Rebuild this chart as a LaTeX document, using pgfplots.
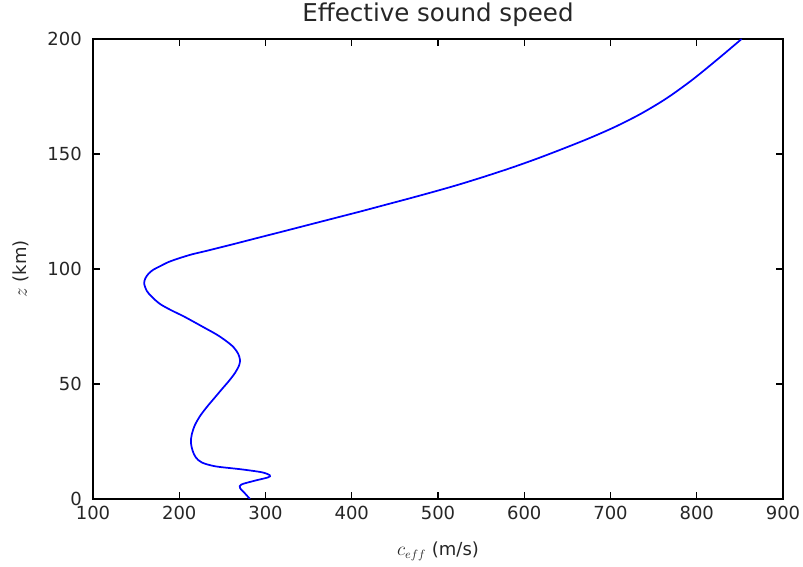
\documentclass[border=0pt]{standalone}
\usepackage{pgfplots}
\pgfplotsset{compat=1.18}
\usepackage{fontspec}
\setmainfont{DejaVu Sans}
\begin{document}
\begin{tikzpicture}
\path[use as bounding box] (-69.75pt,-51pt) rectangle (532.5pt,374.25pt);
\begin{axis}[
  at={(0,0)}, anchor=south west,
  scale only axis,
  width=517.5pt, height=345pt,
  xmin=100, xmax=900, ymin=0, ymax=200,
  xtick={100,200,...,900},
  ytick={0,50,...,200},
  tick align=inside,
  tick pos=both,
  major tick length=5pt,
  minor tick num=0,
  axis line style={line width=0.9pt},
  every tick/.style={black, line width=0.8pt},
  /pgf/number format/assume math mode=true,
  tick label style={font=\fontsize{13.5}{16}\selectfont, text=black!85},
  xticklabel style={anchor=base, yshift=-15.75pt},
  yticklabel style={anchor=east, inner sep=0pt, xshift=-8.25pt},
  scaled ticks=false,
  xlabel={$c_{eff}$ (m/s)},
  ylabel={$z$ (km)},
  label style={font=\fontsize{13.5}{16}\selectfont, text=black!85},
  xlabel style={at={(axis description cs:0.5,-0.113)}, anchor=center},
  ylabel style={at={(axis description cs:-0.104,0.5)}, anchor=center},
  title={Effective sound speed},
  title style={font=\fontsize{18.4}{22}\selectfont, text=black!85, at={(axis description cs:0.5,1)}, anchor=base, yshift=7.3pt},
]
\addplot[blue, line width=1.3pt, smooth] coordinates {
(282,0)
(276,2.5)
(270.5,4.8)
(272,6.3)
(288,8.0)
(303,9.4)
(305,10.3)
(296,11.6)
(272,12.9)
(242,14.2)
(226,15.9)
(219,18.2)
(215.5,21)
(213.5,24.5)
(214.5,28)
(218,32)
(224,36)
(232,40)
(241,44)
(250,48)
(258,51.5)
(265,55)
(269.5,58.2)
(270.4,60.5)
(268.5,63)
(263,66)
(254,68.8)
(243.4,71.5)
(230,74.3)
(217,77)
(204.7,79.5)
(190,82.2)
(177.7,84.8)
(168.5,87.8)
(162.5,90.4)
(159.3,93.7)
(160.8,96.0)
(164.5,98.0)
(170,99.7)
(177.7,101.2)
(188,103.1)
(200.9,104.8)
(215,106.4)
(231.8,107.9)
(262.7,110.8)
(291.7,113.6)
(320,116.3)
(350,119.2)
(380,122.1)
(410,125.0)
(440,128.0)
(470,131.0)
(500,134.1)
(525,136.8)
(555,140.3)
(585,144.0)
(615,148.0)
(645,152.3)
(675,156.8)
(705,161.75)
(735,167.45)
(765,174.2)
(795,182.3)
(825,191.45)
(852,200)
};
\end{axis}
\end{tikzpicture}
\end{document}
